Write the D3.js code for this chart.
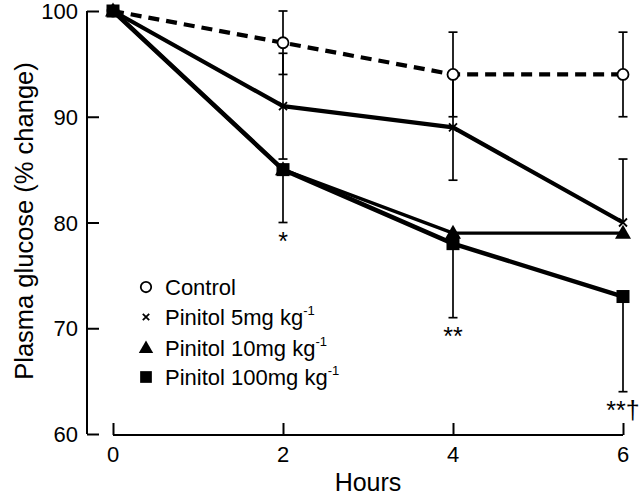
<!DOCTYPE html>
<html><head><meta charset="utf-8">
<script src="https://cdn.jsdelivr.net/npm/d3@7"></script>
<style>body{margin:0;background:#fff;} svg{display:block;} text{font-family:"Liberation Sans",Arial,sans-serif;fill:#000;}</style>
</head><body>
<svg id="c" width="640" height="497"></svg>
<script>
const hours = [0, 2, 4, 6];
const xTicks = [0, 2, 4, 6];
const yTicks = [60, 70, 80, 90, 100];
const seriesNames = ["Control", "Pinitol 5mg kg", "Pinitol 10mg kg", "Pinitol 100mg kg"];
const control = [100, 97, 94, 94];
const pin5 = [100, 91, 89, 80];
const pin10 = [100, 85, 79, 79];
const pin100 = [100, 85, 78, 73];
const controlErrUp = [0, 3, 4, 4], controlErrDown = [0, 3, 4, 4];
const pin5ErrUp = [0, 5, 5, 6], pin5ErrDown = [0, 5, 5, 0];
const pin10ErrUp = [0, 0, 0, 0], pin10ErrDown = [0, 0, 0, 0];
const pin100ErrUp = [0, 0, 0, 0], pin100ErrDown = [0, 5, 7, 9];
const sigLabels = [{h: 2, v: 80, t: "*"}, {h: 4, v: 71, t: "**"}, {h: 6, v: 64, t: "**†"}];

const svg = d3.select("#c");
const x = d3.scaleLinear().domain([0, 6]).range([113, 623]);
const y = d3.scaleLinear().domain([60, 100]).range([434, 11]);

// Y axis
const yAxis = svg.append("g").attr("transform", "translate(87,0)")
  .call(d3.axisRight(y).tickValues(yTicks).tickSize(12).tickFormat(""));
yAxis.select(".domain").attr("d", `M0,${y(100)}V${y(60)}`).attr("stroke-width", 2);
yAxis.selectAll(".tick line").attr("stroke-width", 2);
svg.append("g").selectAll("text").data(yTicks).join("text")
  .attr("x", 78).attr("y", d => y(d) + 8).attr("text-anchor", "end")
  .attr("font-size", 22).text(d => d);

// X axis
const xAxis = svg.append("g").attr("transform", "translate(0,435)")
  .call(d3.axisTop(x).tickValues(xTicks).tickSize(12).tickFormat(""));
xAxis.select(".domain").attr("d", `M${x(0)},0H${x(6)}`).attr("stroke-width", 2);
xAxis.selectAll(".tick line").attr("stroke-width", 2);
svg.append("g").selectAll("text").data(xTicks).join("text")
  .attr("x", d => x(d)).attr("y", 462).attr("text-anchor", "middle")
  .attr("font-size", 22).text(d => d);

svg.append("text").attr("x", 368).attr("y", 491).attr("text-anchor", "middle")
  .attr("font-size", 25).text("Hours");
svg.append("text").attr("transform", "translate(33,221) rotate(-90)")
  .attr("text-anchor", "middle").attr("font-size", 25.5).text("Plasma glucose (% change)");

const series = [
  {vals: control, up: controlErrUp, down: controlErrDown, dash: "11,7", w: 4.2},
  {vals: pin5, up: pin5ErrUp, down: pin5ErrDown, dash: null, w: 4.2},
  {vals: pin10, up: pin10ErrUp, down: pin10ErrDown, dash: null, w: 3.4},
  {vals: pin100, up: pin100ErrUp, down: pin100ErrDown, dash: null, w: 4.5}
];
const line = d3.line().x((d, i) => x(hours[i])).y(d => y(d));

series.forEach(s => {
  svg.append("path").attr("d", line(s.vals)).attr("fill", "none")
    .attr("stroke", "#000").attr("stroke-width", s.w)
    .attr("stroke-dasharray", s.dash).attr("stroke-linejoin", "round");
});

series.forEach(s => {
  s.vals.forEach((v, i) => {
    const cx = x(hours[i]);
    [[s.up[i], 1], [s.down[i], -1]].forEach(([e, sign]) => {
      if (!e) return;
      const yEnd = y(v + sign * e);
      svg.append("line").attr("x1", cx).attr("x2", cx).attr("y1", y(v)).attr("y2", yEnd)
        .attr("stroke", "#000").attr("stroke-width", 1.7);
      svg.append("line").attr("x1", cx - 4.5).attr("x2", cx + 4.5).attr("y1", yEnd).attr("y2", yEnd)
        .attr("stroke", "#000").attr("stroke-width", 1.7);
    });
  });
});

function marker(g, type, cx, cy, scale) {
  scale = scale || 1;
  if (type === 0) {
    g.append("circle").attr("cx", cx).attr("cy", cy).attr("r", 5.5 * scale)
      .attr("fill", "#fff").attr("stroke", "#000").attr("stroke-width", 1.8);
  } else if (type === 1) {
    const r = 4 * scale;
    g.append("path").attr("d", `M${cx - r},${cy - r}L${cx + r},${cy + r}M${cx - r},${cy + r}L${cx + r},${cy - r}`)
      .attr("stroke", "#000").attr("stroke-width", 1.8);
  } else if (type === 2) {
    const h = 14 * scale, b = 8 * scale;
    g.append("path").attr("d", `M${cx},${cy - h * 0.6}L${cx + b},${cy + h * 0.4}L${cx - b},${cy + h * 0.4}Z`)
      .attr("fill", "#000");
  } else {
    const s2 = 6.5 * scale;
    g.append("rect").attr("x", cx - s2).attr("y", cy - s2).attr("width", 2 * s2).attr("height", 2 * s2)
      .attr("fill", "#000");
  }
}
const mg = svg.append("g");
[2, 1, 0, 3].forEach(t => {
  series[t].vals.forEach((v, i) => marker(mg, t, x(hours[i]), y(v)));
});

svg.append("g").selectAll("text").data(sigLabels).join("text")
  .attr("x", d => x(d.h)).attr("y", d => y(d.v) + 27).attr("text-anchor", "middle")
  .attr("font-size", 25).text(d => d.t);

const legY = [287, 317, 348, 377];
const lg = svg.append("g");
seriesNames.forEach((n, i) => {
  marker(lg, i, 146, legY[i], i === 1 ? 0.8 : (i === 0 ? 0.95 : 0.9));
  const t = lg.append("text").attr("x", 165).attr("y", legY[i] + 8).attr("font-size", 22);
  t.append("tspan").text(n);
  if (i > 0) t.append("tspan").attr("font-size", 13).attr("dy", -10).text("-1");
});
</script>
</body></html>
